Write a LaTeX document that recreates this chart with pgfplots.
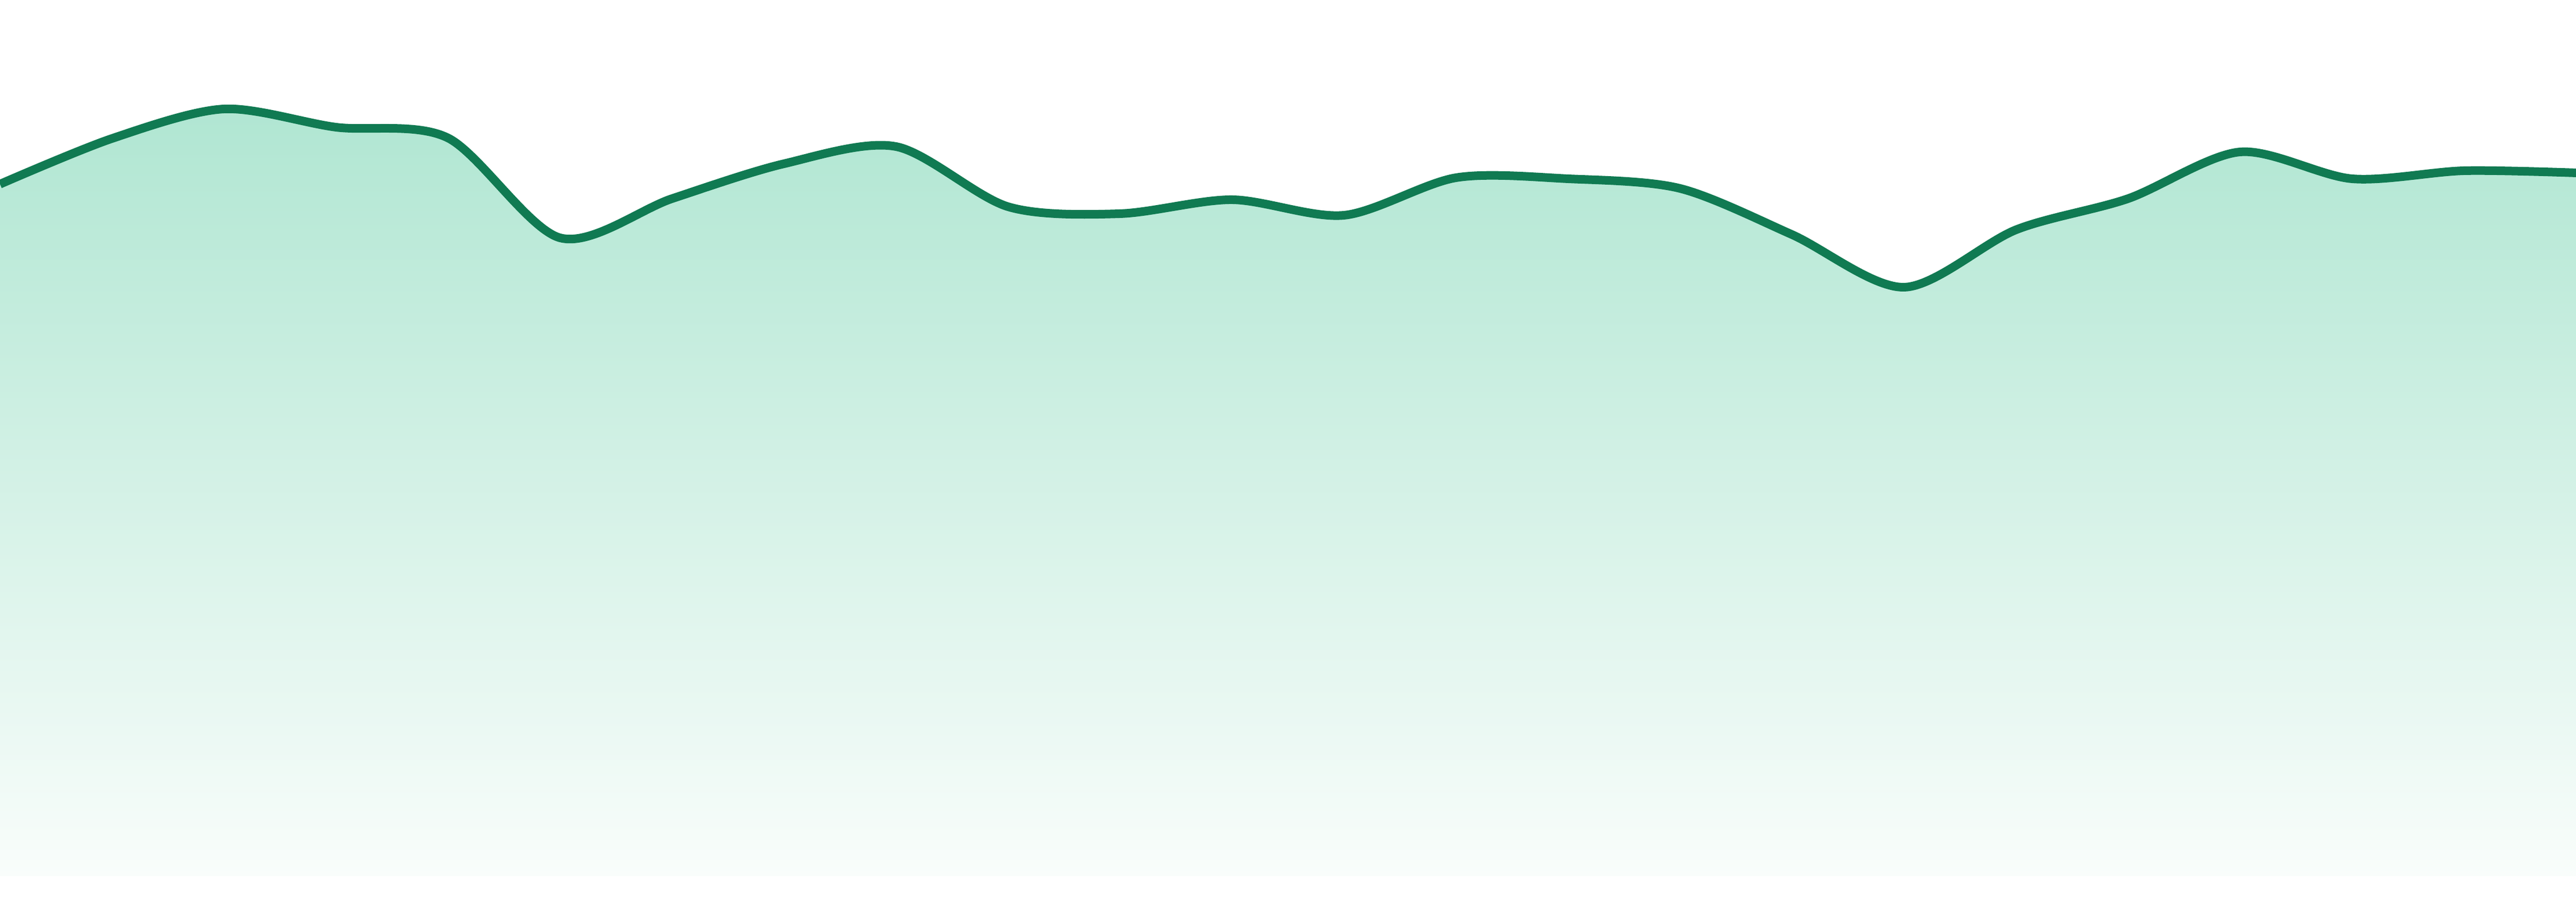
\documentclass[border=0pt]{standalone}
\usepackage{pgfplots}
\pgfplotsset{compat=1.18}
\definecolor{linegreen}{RGB}{16,122,82}
\definecolor{filltop}{RGB}{176,230,210}
\definecolor{fillbot}{RGB}{249,253,251}
\begin{document}
\begin{tikzpicture}
	\begin{axis}[
		scale only axis,
		width=480pt,
		height=168pt,
		hide axis,
		xmin=0, xmax=23,
		ymin=-48, ymax=1632,
		clip=true,
	]
	% area under the curve, fading to white
	\addplot [draw=none, smooth, top color=filltop, bottom color=fillbot] table {
		x y
		0  1289
		1  1374
		2  1429
		3  1395
		4  1375
		5  1189
		6  1262
		7  1327
		8  1359
		9  1247
		10 1234
		11 1260
		12 1231
		13 1301
		14 1299
		15 1281
		16 1195
		17 1097
		18 1204
		19 1262
		20 1349
		21 1299
		22 1314
		23 1310
	} \closedcycle;
	% the line itself
	\addplot [linegreen, line width=1.6pt, smooth] table {
		x y
		0  1289
		1  1374
		2  1429
		3  1395
		4  1375
		5  1189
		6  1262
		7  1327
		8  1359
		9  1247
		10 1234
		11 1260
		12 1231
		13 1301
		14 1299
		15 1281
		16 1195
		17 1097
		18 1204
		19 1262
		20 1349
		21 1299
		22 1314
		23 1310
	};
	\path (rel axis cs:0,0) rectangle (rel axis cs:1,1);
	\end{axis}
\end{tikzpicture}
\end{document}
